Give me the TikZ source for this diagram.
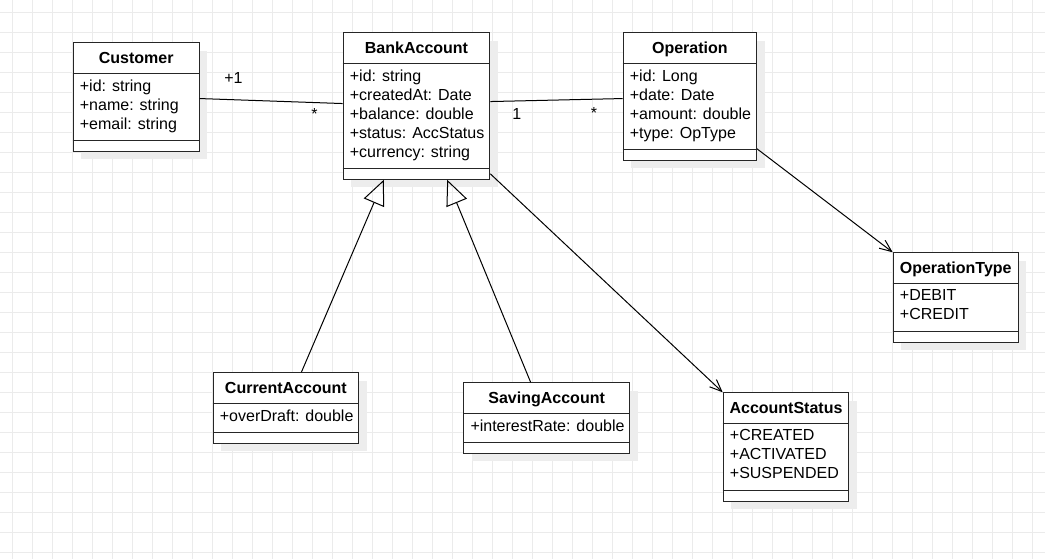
\documentclass[tikz,border=0pt]{standalone}
\usepackage{fontspec}
\setmainfont{Liberation Sans}
\usetikzlibrary{positioning,shadows,arrows.meta}

\definecolor{boxline}{HTML}{262626}
\definecolor{gridgray}{HTML}{EBEBEB}
\definecolor{shadowgray}{HTML}{EDEDED}

\begin{document}
\begin{tikzpicture}[
x=1pt, y=-1pt,
font=\fontsize{16pt}{19pt}\selectfont,
gridline/.style={draw=gridgray, line width=1pt},
classbox/.style={draw=boxline, fill=white, line width=1pt, anchor=north west, inner sep=0pt,
  general shadow={fill=shadowgray, shadow xshift=8pt, shadow yshift=-8pt}},
classtitle/.style={font=\fontsize{16pt}{19pt}\selectfont\bfseries, minimum height=31pt, inner sep=0pt, text height=11.5pt, text depth=0pt},
classattrs/.style={align=left, anchor=north west, inner sep=0pt},
mult/.style={anchor=base, inner sep=0pt},
assoc/.style={draw=black, line width=1pt},
inherit/.style={draw=black, line width=1pt, -{Triangle[open, length=25pt, width=22pt]}},
depend/.style={draw=black, line width=1pt, -{Straight Barb[length=12pt, width=10pt]}},
]
\fill[white] (0,0) rectangle (1045,559);
\useasboundingbox (0,0) rectangle (1045,559);

%Grid
\foreach \i in {0,...,51}
  \draw[gridline] (12.7+20*\i,0) -- (12.7+20*\i,559);
\foreach \j in {0,...,27}
  \draw[gridline] (0,12.7+20*\j) -- (1045,12.7+20*\j);

%Nodes
\node[classbox, minimum width=126pt, minimum height=108.5pt] (customer) at (72.7,42.3) {};
\node[classtitle, below=0pt of customer.north] (customertitle) {Customer};
\node[classattrs, below right=37pt and 7pt of customer.north west] (customerattrs) {+id: string\\+name: string\\+email: string};

\node[classbox, minimum width=146.6pt, minimum height=146.5pt] (bank) at (342.7,32.3) {};
\node[classtitle, below=0pt of bank.north] (banktitle) {BankAccount};
\node[classattrs, below right=37pt and 7pt of bank.north west] (bankattrs) {+id: string\\+createdAt: Date\\+balance: double\\+status: AccStatus\\+currency: string};

\node[classbox, minimum width=133.3pt, minimum height=127.5pt] (operation) at (622.7,32.3) {};
\node[classtitle, below=0pt of operation.north] (operationtitle) {Operation};
\node[classattrs, below right=37pt and 7pt of operation.north west] (operationattrs) {+id: Long\\+date: Date\\+amount: double\\+type: OpType};

\node[classbox, minimum width=125pt, minimum height=89.5pt] (optype) at (892.7,252.3) {};
\node[classtitle, below=0pt of optype.north] (optypetitle) {OperationType};
\node[classattrs, below right=37pt and 7pt of optype.north west] (optypeattrs) {+DEBIT\\+CREDIT};

\node[classbox, minimum width=145.3pt, minimum height=70.5pt] (current) at (212.7,372.3) {};
\node[classtitle, below=0pt of current.north] (currenttitle) {CurrentAccount};
\node[classattrs, below right=37pt and 7pt of current.north west] (currentattrs) {+overDraft: double};

\node[classbox, minimum width=165.7pt, minimum height=70.5pt] (saving) at (463.3,382.3) {};
\node[classtitle, below=0pt of saving.north] (savingtitle) {SavingAccount};
\node[classattrs, below right=37pt and 7pt of saving.north west] (savingattrs) {+interestRate: double};

\node[classbox, minimum width=125.6pt, minimum height=108.5pt] (status) at (722.7,392.3) {};
\node[classtitle, below=0pt of status.north] (statustitle) {AccountStatus};
\node[classattrs, below right=37pt and 7pt of status.north west] (statusattrs) {+CREATED\\+ACTIVATED\\+SUSPENDED};

%Compartments
\foreach \c in {customer,bank,operation,optype,current,saving,status} {
  \draw[draw=boxline, line width=1pt] ([yshift=-31pt]\c.north west) -- ([yshift=-31pt]\c.north east);
  \draw[draw=boxline, line width=1pt] ([yshift=11pt]\c.south west) -- ([yshift=11pt]\c.south east);
}

%Lines
\draw[assoc] ([yshift=-1.5pt]customer.east) -- ([yshift=2.5pt]bank.west);
\draw[assoc] ([yshift=4.5pt]bank.east) -- ([yshift=-2pt]operation.west);
\draw[inherit] ([xshift=15.5pt]current.north) -- ([xshift=-32.7pt]bank.south);
\draw[inherit] ([xshift=-16pt]saving.north) -- ([xshift=30.7pt]bank.south);
\draw[depend] ([yshift=6pt]bank.south east) -- (status.north west);
\draw[depend] ([yshift=12pt]operation.south east) -- (optype.north west);

%Multiplicities
\node[mult] (customerone) at (233.5,84) {+1};
\node[mult] (bankmany) at (314.5,120) {*};
\node[mult] (bankone) at (516.7,120) {1};
\node[mult] (operationmany) at (594,119) {*};
\end{tikzpicture}
\end{document}
